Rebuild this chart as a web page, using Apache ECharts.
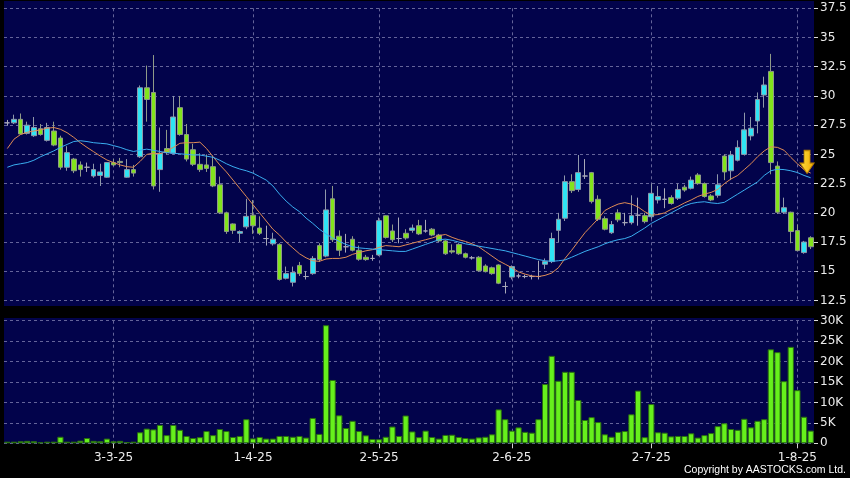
<!DOCTYPE html>
<html>
<head>
<meta charset="utf-8">
<script src="https://cdn.jsdelivr.net/npm/echarts@6/dist/echarts.min.js"></script>
<style>
html,body{margin:0;padding:0;background:#000;}
#c{width:850px;height:478px;}
</style>
</head>
<body>
<div id="c"></div>
<script>
// Trading days (d-m-yy)
const dates = [
 '7-2-25','10-2-25','11-2-25','12-2-25','13-2-25','14-2-25','17-2-25','18-2-25','19-2-25','20-2-25','21-2-25','24-2-25','25-2-25','26-2-25','27-2-25','28-2-25',
 '3-3-25','4-3-25','5-3-25','6-3-25','7-3-25','10-3-25','11-3-25','12-3-25','13-3-25','14-3-25','17-3-25','18-3-25','19-3-25','20-3-25','21-3-25','24-3-25','25-3-25','26-3-25','27-3-25','28-3-25','31-3-25',
 '1-4-25','2-4-25','3-4-25','7-4-25','8-4-25','9-4-25','10-4-25','11-4-25','14-4-25','15-4-25','16-4-25','17-4-25','22-4-25','23-4-25','24-4-25','25-4-25','28-4-25','29-4-25','30-4-25',
 '2-5-25','6-5-25','7-5-25','8-5-25','9-5-25','12-5-25','13-5-25','14-5-25','15-5-25','16-5-25','19-5-25','20-5-25','21-5-25','22-5-25','23-5-25','26-5-25','27-5-25','28-5-25','29-5-25','30-5-25',
 '2-6-25','3-6-25','4-6-25','5-6-25','6-6-25','9-6-25','10-6-25','11-6-25','12-6-25','13-6-25','16-6-25','17-6-25','18-6-25','19-6-25','20-6-25','23-6-25','24-6-25','25-6-25','26-6-25','27-6-25','30-6-25',
 '2-7-25','3-7-25','4-7-25','7-7-25','8-7-25','9-7-25','10-7-25','11-7-25','14-7-25','15-7-25','16-7-25','17-7-25','18-7-25','21-7-25','22-7-25','23-7-25','24-7-25','25-7-25','28-7-25','29-7-25','30-7-25','31-7-25',
 '1-8-25','4-8-25','5-8-25'
];
const tickLabels = ['3-3-25','1-4-25','2-5-25','2-6-25','2-7-25','1-8-25'];

// [open, close, low, high]
const candles = [
 [27.7,27.7,27.45,27.95],[27.7,28.0,27.6,28.4],[28.0,26.75,26.7,28.5],[26.8,27.5,26.7,27.8],[26.6,27.3,26.5,28.2],
 [27.2,26.7,26.6,27.6],[26.2,27.3,26.1,27.7],[27.0,25.8,25.7,27.8],[26.4,23.9,23.7,26.6],[23.9,25.15,23.6,25.7],
 [24.6,23.6,23.4,24.7],[24.1,23.7,23.1,24.4],[23.9,23.9,23.5,24.3],[23.15,23.7,23.0,24.2],[23.2,23.5,22.3,24.2],
 [23.05,24.3,23.0,24.35],[24.3,24.1,24.0,24.6],[24.4,24.3,23.9,24.7],[23.05,23.7,23.0,24.6],[23.7,23.4,23.1,24.1],
 [24.8,30.7,24.7,30.9],[30.7,29.7,27.8,32.6],[30.3,22.3,22.0,33.5],[23.7,25.1,21.8,27.3],[25.5,25.15,25.0,27.1],
 [25.1,28.2,25.0,30.0],[29.0,26.7,26.6,30.0],[26.7,24.6,24.4,27.6],[25.4,24.15,24.0,25.9],[24.15,23.7,23.5,25.1],
 [24.1,23.8,23.5,25.0],[23.95,22.3,22.2,24.9],[22.4,20.0,19.9,23.1],[20.0,18.4,18.2,20.1],[19.05,18.5,18.2,19.1],
 [18.25,18.4,17.5,18.5],[18.8,19.7,18.6,21.2],[19.8,18.9,18.2,21.1],[18.7,18.25,18.1,19.7],[17.8,17.8,17.2,18.9],
 [17.35,17.75,17.2,18.3],[17.3,14.3,14.2,17.4],[14.4,14.8,14.3,15.4],[14.06,14.9,13.7,15.4],[15.5,14.8,14.6,15.8],
 [14.55,14.55,14.3,15.0],[14.8,16.1,14.7,16.3],[17.2,16.0,15.8,17.4],[16.3,20.25,16.2,22.0],[21.2,17.7,17.5,22.3],
 [18.0,16.8,16.3,18.5],[17.1,17.1,16.6,18.2],[17.74,16.8,16.7,18.0],[16.8,16.03,15.9,17.2],[16.2,16.0,15.9,16.4],
 [16.1,16.1,15.9,16.4],[16.4,19.33,16.3,19.6],[19.75,17.9,17.8,19.8],[18.45,17.7,17.5,19.0],[17.8,17.8,17.4,19.6],
 [18.25,17.85,17.7,18.6],[18.5,18.7,18.3,19.0],[18.9,18.2,18.1,19.4],[18.45,18.45,18.3,19.4],[18.6,18.1,18.0,18.7],
 [18.1,17.6,17.5,18.2],[17.6,16.5,16.4,17.7],[16.75,16.65,16.5,17.3],[17.3,16.5,16.4,17.4],[16.5,16.2,16.1,16.6],
 [16.15,16.15,16.0,16.3],[16.2,15.05,14.95,16.3],[15.45,14.97,14.9,15.6],[15.3,14.8,14.7,15.4],[15.54,13.98,13.9,15.6],
 [13.7,13.7,13.1,14.1],[14.5,15.4,14.3,15.5],[14.6,14.6,14.4,14.8],[14.55,14.55,14.4,14.7],[14.55,14.55,14.3,14.7],
 [14.55,14.55,14.3,15.9],[15.6,15.83,15.2,16.1],[15.83,17.8,15.7,18.3],[18.5,19.45,17.5,20.0],[19.54,22.67,19.3,23.2],
 [22.67,21.9,21.7,23.3],[22.0,23.44,21.8,24.95],[23.15,23.15,22.9,24.6],[23.44,20.96,20.8,23.5],[21.16,19.45,19.3,21.5],
 [19.5,18.6,18.5,19.7],[18.3,19.0,18.2,19.3],[20.0,19.4,19.2,20.3],[19.16,19.16,18.9,20.0],[19.16,19.76,19.0,21.5],
 [19.8,19.8,18.9,21.3],[19.76,19.25,19.1,20.0],[19.67,21.67,19.5,22.5],[21.1,21.4,20.8,22.3],[21.16,21.16,20.4,22.1],
 [21.3,20.8,20.7,21.5],[21.25,22.0,21.1,22.5],[22.2,21.95,21.8,22.4],[22.1,22.8,22.0,23.1],[23.24,22.5,22.4,23.4],
 [22.5,21.4,21.3,22.6],[21.45,21.1,21.0,21.6],[21.5,22.4,21.3,23.3],[24.86,23.5,22.8,25.0],[23.6,24.95,22.8,25.3],
 [24.5,25.6,24.4,26.2],[25.0,27.1,24.9,28.57],[26.58,27.24,26.2,28.2],[27.86,29.7,26.8,30.3],[30.08,30.94,29.0,31.65],
 [32.1,24.3,23.3,33.6],[24.0,20.05,19.9,24.4],[20.05,20.44,19.9,21.3],[20.05,18.4,17.4,20.1],[18.48,16.77,16.7,19.0],
 [16.6,17.5,16.5,17.6],[17.87,17.1,16.9,18.0]
];

const volumes = [
 400,400,500,600,500,250,400,400,1600,400,
 400,650,1300,600,500,1150,500,600,300,400,
 2700,3600,3400,4500,2000,4500,3300,1800,1300,1500,
 3000,2000,3500,3000,1550,1800,5900,1200,1550,1150,
 1150,1800,1800,1600,1800,1400,6200,2300,28900,15500,
 6850,3750,5500,3000,1950,1050,1000,1600,4100,1800,
 6800,2900,1500,3100,1550,1150,2050,2100,1550,1300,
 1150,1450,1600,2200,8300,5900,3100,3900,2800,2600,
 5900,14500,21400,15300,17500,17500,10600,5700,6400,5200,
 2200,1600,2800,3000,7100,12900,1500,9600,2700,2600,
 1700,1800,1800,2450,1400,2000,2500,4200,4900,3500,
 3300,6000,3900,5500,5900,23000,22300,15200,23600,13000,
 6500,3100
];

const ma10 = [
 25.5,26.3,26.7,26.9,27.0,27.1,27.24,27.3,27.15,26.86,
 26.46,26.0,25.6,25.23,24.86,24.52,24.3,24.1,23.95,23.9,
 24.4,25.0,25.1,25.05,25.3,25.6,25.95,26.0,26.0,26.05,
 25.5,24.8,24.1,23.5,22.8,22.1,21.4,20.7,20.0,19.3,
 18.6,18.1,17.5,17.0,16.5,16.15,15.9,15.85,16.05,16.1,
 16.1,16.2,16.45,16.6,16.75,16.85,17.05,17.2,17.15,17.1,
 17.25,17.4,17.55,17.7,17.85,18.05,18.15,17.9,17.7,17.55,
 17.35,17.1,16.7,16.3,15.9,15.6,15.3,14.95,14.75,14.6,
 14.55,14.65,14.85,15.3,16.1,16.8,17.55,18.3,18.9,19.5,
 20.2,20.5,20.75,20.87,20.75,20.5,20.1,19.8,19.85,20.0,
 20.3,20.55,20.85,21.1,21.4,21.6,21.75,22.0,22.5,22.9,
 23.2,23.7,24.2,24.8,25.3,25.65,25.6,25.35,24.75,24.2,
 23.7,23.4
];

const ma20 = [
 23.9,24.1,24.2,24.3,24.5,24.8,25.05,25.3,25.6,25.85,
 26.1,26.17,26.1,26.0,25.95,25.9,25.75,25.6,25.4,25.25,
 25.35,25.45,25.35,25.25,25.15,25.1,25.05,25.0,24.95,24.95,
 24.85,24.75,24.5,24.2,23.95,23.75,23.6,23.4,23.1,22.8,
 22.3,21.6,21.0,20.5,20.1,19.55,19.1,18.6,18.2,17.85,
 17.55,17.3,17.1,17.0,16.95,16.9,16.85,16.8,16.75,16.7,
 16.7,16.9,17.1,17.3,17.5,17.7,17.75,17.65,17.5,17.35,
 17.25,17.15,17.05,16.95,16.85,16.75,16.6,16.45,16.3,16.15,
 16.0,15.9,15.85,15.9,15.97,16.2,16.45,16.7,16.9,17.1,
 17.35,17.55,17.7,17.8,18.0,18.35,18.7,19.1,19.4,19.7,
 20.0,20.3,20.6,20.8,20.9,20.95,20.85,20.8,20.9,21.25,
 21.6,21.95,22.3,22.65,23.2,23.6,23.73,23.7,23.6,23.45,
 23.2,23.0
];

// Signal arrow annotation: [category, price]
const arrowMark = ['4-8-25', 24.35];

const NAVY = '#02034b';
const GRID_LINE = {color: '#64649a', type: [3, 3], width: 1};
const LABEL_FONT = {color: '#ececec', fontSize: 12, fontFamily: 'DejaVu Sans'};
const showTick = (idx, val) => tickLabels.indexOf(val) >= 0;

const chart = echarts.init(document.getElementById('c'), null, {renderer: 'canvas'});
chart.setOption({
  backgroundColor: '#000',
  animation: false,
  graphic: [
    {type: 'rect', z: -10, silent: true, shape: {x: 4, y: 1, width: 810, height: 305}, style: {fill: NAVY}},
    {type: 'rect', z: -10, silent: true, shape: {x: 4, y: 318, width: 810, height: 125.3}, style: {fill: NAVY}},
    {type: 'text', right: 4, top: 465, silent: true,
     style: {text: 'Copyright by AASTOCKS.com Ltd.', fill: '#ffffff', font: '10.5px "Liberation Sans"'}}
  ],
  grid: [
    {left: 4, right: 36, top: 8.3, height: 292.2},
    {left: 4, right: 36, top: 320.7, height: 122.6}
  ],
  xAxis: [
    {type: 'category', gridIndex: 0, data: dates, boundaryGap: true,
     axisLine: {show: false}, axisTick: {show: false}, axisLabel: {show: false},
     splitLine: {show: true, interval: showTick, alignWithLabel: true, lineStyle: GRID_LINE}},
    {type: 'category', gridIndex: 1, data: dates, boundaryGap: true,
     axisLine: {show: false},
     axisTick: {show: true, interval: showTick, alignWithLabel: true, length: 5, lineStyle: {color: '#cfcfcf'}},
     axisLabel: Object.assign({interval: showTick, margin: 9}, LABEL_FONT),
     splitLine: {show: true, interval: showTick, alignWithLabel: true, lineStyle: GRID_LINE}}
  ],
  yAxis: [
    {type: 'value', gridIndex: 0, position: 'right', min: 12.5, max: 37.5, interval: 2.5,
     axisLine: {show: false},
     axisTick: {show: true, length: 4, lineStyle: {color: '#dcdcdc'}},
     axisLabel: Object.assign({margin: 6, showMinLabel: true, showMaxLabel: true}, LABEL_FONT),
     splitLine: {show: true, lineStyle: GRID_LINE}},
    {type: 'value', gridIndex: 1, position: 'right', min: 0, max: 30000, interval: 5000,
     axisLine: {show: false},
     axisTick: {show: true, length: 4, lineStyle: {color: '#dcdcdc'}},
     axisLabel: Object.assign({margin: 6, showMinLabel: true, showMaxLabel: true,
       formatter: v => v === 0 ? '0' : (v / 1000) + 'K'}, LABEL_FONT),
     splitLine: {show: true, lineStyle: GRID_LINE}}
  ],
  series: [
    {type: 'candlestick', xAxisIndex: 0, yAxisIndex: 0, data: candles, barWidth: '78%', z: 2,
     itemStyle: {color: '#2fe4f4', color0: '#82e41c', borderColor: '#8f98aa', borderColor0: '#8f9a88',
                 borderColorDoji: '#a9a9b9', borderWidth: 1},
     markPoint: {
       silent: true,
       label: {show: false},
       data: [{coord: arrowMark,
               symbol: 'path://M4,0 L10,0 L10,12 L14,12 L7,22 L0,12 L4,12 Z',
               symbolSize: [14, 23], symbolOffset: [3, 0], symbolKeepAspect: false,
               itemStyle: {color: {type: 'linear', x: 0, y: 0, x2: 1, y2: 0,
                 colorStops: [{offset: 0, color: '#ffe040'}, {offset: 1, color: '#f0a800'}]},
                 borderColor: '#b88000', borderWidth: 1}}]
     }},
    {type: 'line', xAxisIndex: 0, yAxisIndex: 0, data: ma10, symbol: 'none', z: 3,
     lineStyle: {color: '#e08c55', width: 1}},
    {type: 'line', xAxisIndex: 0, yAxisIndex: 0, data: ma20, symbol: 'none', z: 3,
     lineStyle: {color: '#3aaef0', width: 1}},
    {type: 'bar', xAxisIndex: 1, yAxisIndex: 1, data: volumes, barCategoryGap: '6%',
     itemStyle: {color: '#66f01c', borderColor: '#2a6e10', borderWidth: 1}}
  ]
});
</script>
</body>
</html>
